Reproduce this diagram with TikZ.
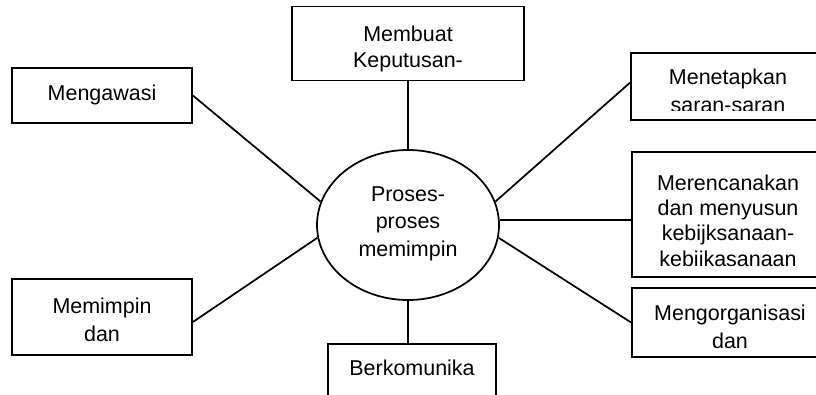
\documentclass[tikz,border=0pt]{standalone}
\usepackage{fontspec}
\setmainfont{Liberation Sans}
\usetikzlibrary{shapes.geometric,calc}
\begin{document}
\begin{tikzpicture}[x=0.75pt,y=-0.75pt,
  txt/.style={font=\fontsize{16.1}{#1}\selectfont, align=center, inner sep=0pt},
  txt/.default=21pt,
  box/.style={draw, line width=1.3pt, rectangle, inner sep=0pt},
  hubshape/.style={draw, line width=1.3pt, ellipse, inner sep=0pt,
    minimum width=136.5pt, minimum height=112.5pt},
  link/.style={line width=1.3pt}]
\useasboundingbox (0,0) rectangle (816,394);
\clip (0,0) rectangle (816,394);

% central process
\node[hubshape] (hub) at (408,225) {};
\node[txt=20.5pt] (hubt) at (408,223.5) {Proses-\\proses\\memimpin};

% surrounding activity boxes
\node[box, minimum width=174pt, minimum height=55.5pt] (tb) at (408,43.5) {};
\node[txt=19.5pt] (tbt) at (408,48.5) {Membuat\\Keputusan-};

\node[box, minimum width=135pt, minimum height=41.25pt] (mw) at (102,95.5) {};
\node[txt] (mwt) at (102,95) {Mengawasi};

\node[box, minimum width=135pt, minimum height=57pt] (mp) at (102,317) {};
\node[txt] (mpt) at (102,319.5) {Memimpin\\dan};

\node[box, minimum width=126pt, minimum height=45pt, anchor=north] (bk) at (412,343) {};
\node[txt] (bkt) at (412,368) {Berkomunika};

\node[box, minimum width=145.5pt, minimum height=50.25pt] (mt) at (728,86.5) {};
\begin{scope}
  \clip (mt.north west) rectangle (mt.east |- 0,110);
  \node[txt] (mtt) at (728,91) {Menetapkan\\saran-saran};
\end{scope}

\node[box, minimum width=144.75pt, minimum height=93.75pt] (mr) at (728.5,214.5) {};
\node[txt=19pt] (mrt) at (728,220.5) {Merencanakan\\dan menyusun\\kebijksanaan-\\kebiikasanaan};

\node[box, minimum width=144.75pt, minimum height=51.75pt] (mo) at (728.5,322.5) {};
\node[txt] (mot) at (730,326.5) {Mengorganisasi\\dan};

% connectors
\draw[link] (mw.east) -- (hub.165);
\draw[link] ($(mp.east)+(0,5)$) -- (hub.188);
\draw[link] (hub.15) -- ($(mt.west)+(0,-4)$);
\draw[link] (hub.3) -- (hub.3 -| mr.west);
\draw[link] (hub.-8) -- (mo.west);
\draw[link] (hub.north) -- (hub.north |- tb.south);
\draw[link] (hub.south) -- (hub.south |- bk.north);
\end{tikzpicture}
\end{document}
